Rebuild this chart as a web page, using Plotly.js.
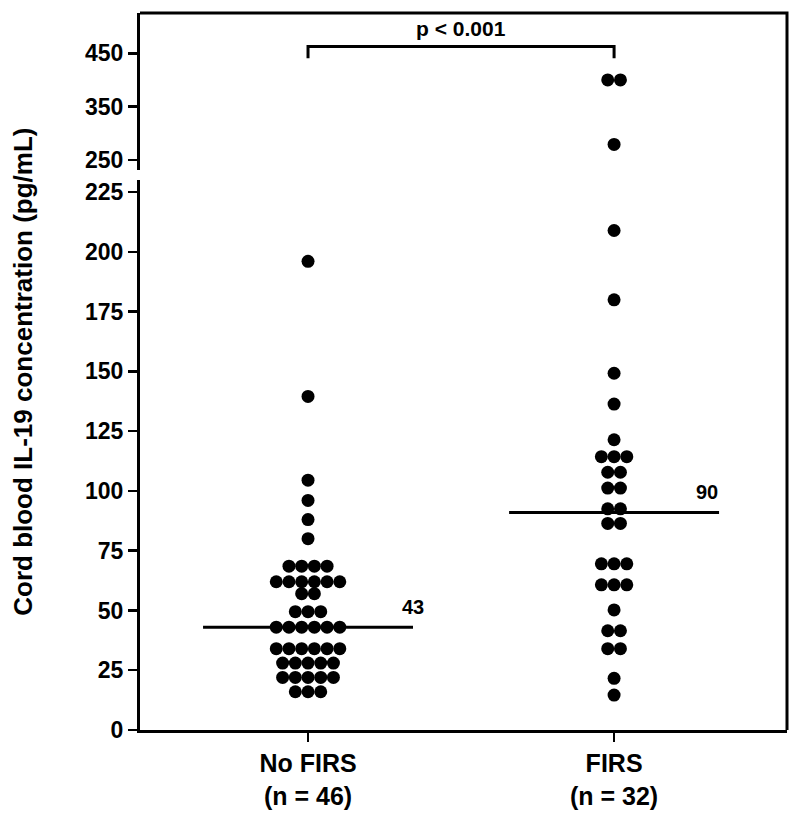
<!DOCTYPE html>
<html>
<head>
<meta charset="utf-8">
<script src="https://cdn.plot.ly/plotly-3.0.1.min.js"></script>
<style>html,body{margin:0;padding:0;background:#fff;}#chart{width:800px;height:816px;}</style>
</head>
<body>
<div id="chart"></div>
<script>
// ---- data ----
const categories = ['No FIRS', 'FIRS'];
const sampleSizes = ['(n = 46)', '(n = 32)'];
const noFirsValues = [16,16,16, 22,22,22,22,22, 28,28,28,28,28, 34,34,34,34,34,34,
  43,43,43,43,43,43, 49.5,49.5,49.5, 57,57, 62,62,62,62,62,62, 68.5,68.5,68.5,68.5,
  80, 88, 96, 104.5, 139.5, 196];
const firsValues = [14.6, 21.6, 34,34, 41.5,41.5, 50.2, 60.7,60.7,60.7, 69.5,69.5,69.5,
  86.4,86.4, 92.5,92.5, 101.2,101.2, 107.8,107.8, 114.3,114.3,114.3, 121.4, 136.3,
  149.2, 179.9, 208.9, 279, 400, 400];
const medians = [43, 91];
const medianLabels = ['43', '90'];
const pValueText = 'p < 0.001';
const yTitle = 'Cord blood IL-19 concentration (pg/mL)';
const lowerTicks = [0, 25, 50, 75, 100, 125, 150, 175, 200, 225];
const upperTicks = [250, 350, 450];
const breakValue = 230;

// ---- layout helpers ----
const FONT = 'Liberation Sans, Arial, Helvetica, sans-serif';
const dotStep = 0.0415;
const halfLine = 0.343;
const labelShift = [0, -12];

function swarm(values, cat) {
  const counts = {}; values.forEach(v => counts[v] = (counts[v] || 0) + 1);
  const seen = {}; const xs = [];
  values.forEach(v => {
    const n = counts[v]; const i = seen[v] = (seen[v] === undefined ? 0 : seen[v] + 1);
    xs.push(cat + (i - (n - 1) / 2) * dotStep);
  });
  return xs;
}

const traces = [];
[noFirsValues, firsValues].forEach((vals, ci) => {
  const xs = swarm(vals, ci);
  const lowX = [], lowY = [], hiX = [], hiY = [];
  vals.forEach((v, i) => { if (v <= breakValue) { lowX.push(xs[i]); lowY.push(v); } else { hiX.push(xs[i]); hiY.push(v); } });
  const marker = {color: '#000', size: 13, line: {width: 0}};
  traces.push({type: 'scatter', mode: 'markers', x: lowX, y: lowY, xaxis: 'x', yaxis: 'y', marker, hoverinfo: 'y', showlegend: false});
  traces.push({type: 'scatter', mode: 'markers', x: hiX, y: hiY, xaxis: 'x', yaxis: 'y2', marker, hoverinfo: 'y', showlegend: false});
  traces.push({type: 'scatter', mode: 'lines', x: [ci - halfLine, ci + halfLine], y: [medians[ci], medians[ci]],
    xaxis: 'x', yaxis: 'y', line: {color: '#000', width: 3}, hoverinfo: 'skip', showlegend: false});
});

const axisCommon = {
  showline: true, linecolor: '#000', linewidth: 3, ticks: 'outside', ticklen: 9, tickwidth: 2.5,
  tickcolor: '#000', showgrid: false, zeroline: false, fixedrange: true,
  tickfont: {family: FONT, size: 23, color: '#000', weight: 'bold'}
};

const annotations = [
  {xref: 'paper', yref: 'paper', x: -0.182, y: 0.5, text: yTitle, textangle: -90, showarrow: false,
   xanchor: 'center', yanchor: 'middle', font: {family: FONT, size: 26, color: '#000', weight: 'bold'}},
  {xref: 'x', yref: 'y2', x: 0.5, y: 462.5, text: pValueText, showarrow: false, yanchor: 'bottom', yshift: 5,
   font: {family: FONT, size: 21, color: '#000', weight: 'bold'}}
];
medians.forEach((m, ci) => annotations.push({
  xref: 'x', yref: 'y', x: ci + halfLine, y: m, text: medianLabels[ci], showarrow: false,
  yanchor: 'bottom', yshift: 7, xshift: labelShift[ci], font: {family: FONT, size: 20, color: '#000', weight: 'bold'}
}));

const layout = {
  width: 800, height: 816, margin: {l: 140, r: 13, t: 13, b: 86},
  paper_bgcolor: '#fff', plot_bgcolor: '#fff', showlegend: false,
  xaxis: Object.assign({}, axisCommon, {range: [-0.549, 1.565], tickmode: 'array', tickvals: [0, 1],
    ticktext: categories.map((c, i) => c + '<br>' + sampleSizes[i]), anchor: 'y',
    tickfont: {family: FONT, size: 25, color: '#000', weight: 'bold'}}),
  yaxis: Object.assign({}, axisCommon, {domain: [0, 0.767], range: [0, breakValue], tickmode: 'array',
    tickvals: lowerTicks, anchor: 'x'}),
  yaxis2: Object.assign({}, axisCommon, {domain: [0.781, 1], range: [231, 525.5], tickmode: 'array',
    tickvals: upperTicks, anchor: 'x'}),
  shapes: [
    {type: 'path', xref: 'paper', yref: 'paper', path: 'M0,1 L1,1 L1,0', line: {color: '#000', width: 3}},
    {type: 'path', xref: 'x', yref: 'y2', path: 'M0,440.6 L0,462.5 L1,462.5 L1,440.6', line: {color: '#000', width: 3}}
  ],
  annotations
};

Plotly.newPlot('chart', traces, layout, {displayModeBar: false, staticPlot: true});
</script>
</body>
</html>
